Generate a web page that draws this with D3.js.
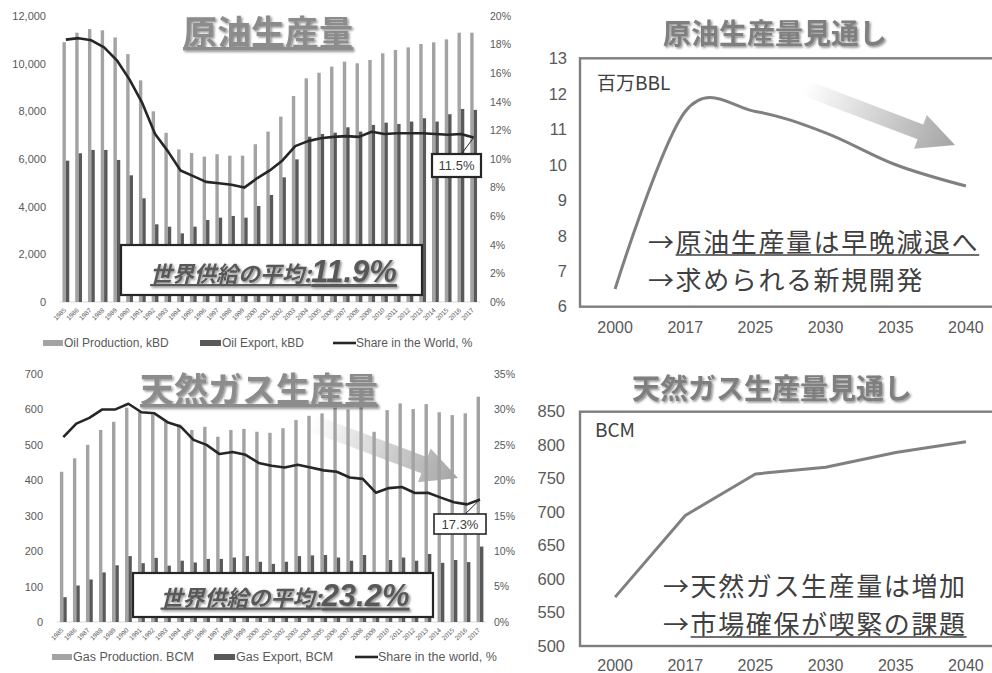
<!DOCTYPE html>
<html lang="ja"><head><meta charset="utf-8">
<script src="https://cdn.jsdelivr.net/npm/d3@7/dist/d3.min.js"></script>
<style>body{margin:0;background:#fff}svg{display:block}</style>
</head><body><svg id="c" width="992" height="673"></svg>
<script>
// ---------- DATA ----------
const years = ["1985","1986","1987","1988","1989","1990","1991","1992","1993","1994","1995","1996","1997","1998","1999","2000","2001","2002","2003","2004","2005","2006","2007","2008","2009","2010","2011","2012","2013","2014","2015","2016","2017"];
const oilProduction = [10900,11300,11450,11400,11100,10400,9300,8000,7100,6400,6250,6100,6200,6140,6140,6620,7150,7780,8645,9385,9620,9875,10085,10015,10155,10435,10575,10685,10825,10895,11020,11300,11300];
const oilExport = [5930,6240,6380,6380,5960,5315,4350,3260,3160,2880,3160,3440,3540,3610,3540,4030,4490,5230,5985,6935,7050,7105,7330,7150,7430,7525,7470,7570,7710,7570,7880,8100,8060];
const oilShare = [18.35,18.45,18.3,17.8,16.9,15.55,13.9,11.75,10.55,9.2,8.8,8.4,8.3,8.2,8.0,8.65,9.2,9.9,10.9,11.25,11.45,11.55,11.6,11.55,11.9,11.75,11.8,11.8,11.8,11.75,11.7,11.75,11.5];
const oilLeftTicks = [0,2000,4000,6000,8000,10000,12000];
const oilRightTicks = [0,2,4,6,8,10,12,14,16,18,20];

const gasProduction = [424,462,500,542,565,605,594,586,565,558,542,551,523,542,545,537,534,547,570,582,589,605,600,612,537,598,617,601,615,592,584,589,636];
const gasExport = [70,103,120,140,160,186,166,181,159,173,168,178,178,182,186,170,164,170,186,188,189,182,173,189,130,175,182,173,192,167,175,169,213];
const gasShare = [26.1,28.0,28.8,30.0,30.0,30.8,29.6,29.45,28.2,27.6,25.7,25.0,23.7,24.0,23.6,22.45,22.05,21.8,22.2,21.8,21.4,21.2,20.4,20.2,18.25,18.9,19.05,18.2,18.25,17.55,16.9,16.6,17.3];
const gasLeftTicks = [0,100,200,300,400,500,600,700];
const gasRightTicks = [0,5,10,15,20,25,30,35];

const forecastYears = ["2000","2017","2025","2030","2035","2040"];
const oilForecast = [6.5,11.5,11.5,10.9,10.0,9.4];
const gasForecast = [573,695,757,767,789,805];
const oilForecastTicks = [6,7,8,9,10,11,12,13];
const gasForecastTicks = [500,550,600,650,700,750,800,850];

// ---------- SETUP ----------
const svg = d3.select("#c");
const LAT = "'Liberation Sans', Arial, sans-serif";
const JP = "'Noto Sans CJK JP', sans-serif";
const defs = svg.append("defs");
const f = defs.append("filter").attr("id","shadow").attr("x","-10%").attr("y","-20%").attr("width","130%").attr("height","150%");
f.append("feDropShadow").attr("dx",1.5).attr("dy",1.5).attr("stdDeviation",1.2).attr("flood-color","#000").attr("flood-opacity",0.45);
const gr = defs.append("linearGradient").attr("id","arrowGrad").attr("x1",0).attr("y1",0).attr("x2",1).attr("y2",0);
gr.append("stop").attr("offset","0%").attr("stop-color","#ffffff");
gr.append("stop").attr("offset","100%").attr("stop-color","#a4a4a4");

function arrow(x0,y0,x1,y1,sw,hl,hw){
  const L = Math.hypot(x1-x0,y1-y0), a = Math.atan2(y1-y0,x1-x0)*180/Math.PI;
  const pts = [[0,-sw/2],[L-hl,-sw/2],[L-hl,-hw/2],[L,0],[L-hl,hw/2],[L-hl,sw/2],[0,sw/2]];
  svg.append("g").attr("transform",`translate(${x0},${y0}) rotate(${a})`)
    .append("polygon").attr("points",pts.map(p=>p.join(",")).join(" ")).attr("fill","url(#arrowGrad)");
}

function barChart(o){
  const g = svg.append("g");
  const x = d3.scaleBand().domain(years).range([o.x0,o.x1]);
  const yL = d3.scaleLinear().domain([0,o.maxL]).range([o.yBase,o.yTop]);
  const yR = d3.scaleLinear().domain([0,o.maxR]).range([o.yBase,o.yTop]);
  const c = d => x(d)+x.bandwidth()/2;
  const bw = 3.4;
  g.append("line").attr("x1",o.x0).attr("x2",o.x1).attr("y1",o.yBase).attr("y2",o.yBase).attr("stroke","#d9d9d9");
  g.selectAll(".p").data(o.prod).join("rect").attr("x",(d,i)=>c(years[i])-bw).attr("y",d=>yL(d))
    .attr("width",bw).attr("height",d=>o.yBase-yL(d)).attr("fill","#a3a3a3");
  g.selectAll(".e").data(o.exp).join("rect").attr("x",(d,i)=>c(years[i])).attr("y",d=>yL(d))
    .attr("width",bw).attr("height",d=>o.yBase-yL(d)).attr("fill","#595959");
  g.append("path").datum(o.share).attr("fill","none").attr("stroke","#262626").attr("stroke-width",2.6)
    .attr("stroke-linejoin","round")
    .attr("d",d3.line().x((d,i)=>c(years[i])).y(d=>yR(d)));
  // axes
  const la = g.append("g").attr("transform",`translate(${o.leftX},0)`)
    .call(d3.axisLeft(yL).tickValues(o.leftTicks).tickSize(0).tickPadding(1).tickFormat(d3.format(",")));
  const ra = g.append("g").attr("transform",`translate(${o.rightX},0)`)
    .call(d3.axisRight(yR).tickValues(o.rightTicks).tickSize(0).tickPadding(1).tickFormat(d=>d+"%"));
  [la,ra].forEach(a=>{a.select(".domain").remove();a.selectAll("text").attr("fill","#595959").style("font-family",LAT);});
  la.selectAll("text").style("font-size","11px");
  ra.selectAll("text").style("font-size","10.5px");
  const xa = g.append("g").attr("transform",`translate(0,${o.yBase})`).call(d3.axisBottom(x).tickSize(0));
  xa.select(".domain").remove();
  xa.selectAll("text").attr("y",0).attr("dy","0.35em").attr("x",0)
    .attr("transform","translate(-1,7) rotate(-45)").style("text-anchor","end")
    .style("font-size","6.5px").style("font-family",LAT).attr("fill","#595959");
  // last-value label
  const lx = c(years[years.length-1]), ly = yR(o.share[o.share.length-1]);
  g.append("line").attr("x1",o.lbl[0]+o.lbl[2]*0.6).attr("y1",o.lbl[1]).attr("x2",lx).attr("y2",ly)
    .attr("stroke","#262626").attr("stroke-width",1);
  g.append("rect").attr("x",o.lbl[0]).attr("y",o.lbl[1]).attr("width",o.lbl[2]).attr("height",o.lbl[3])
    .attr("fill","#fff").attr("stroke","#262626").attr("stroke-width",o.lblStroke);
  g.append("text").attr("x",o.lbl[0]+o.lbl[2]/2).attr("y",o.lbl[1]+o.lbl[3]/2).attr("dy","0.36em")
    .attr("text-anchor","middle").style("font-family",LAT).style("font-size","13px").attr("fill","#404040")
    .text((o.share[o.share.length-1]).toFixed(1)+"%");
  // average box
  const b = o.box;
  g.append("rect").attr("x",b[0]).attr("y",b[1]).attr("width",b[2]).attr("height",b[3])
    .attr("fill","#fff").attr("stroke","#262626").attr("stroke-width",2.2);
  const t = g.append("text").attr("x",b[0]+b[2]/2+2).attr("y",b[1]+b[3]*0.74).attr("text-anchor","middle")
    .attr("fill","#595959").style("font-weight","bold").style("font-style","italic")
    .style("text-decoration","underline").attr("filter","url(#shadow)");
  t.append("tspan").style("font-family",JP).style("font-size","22px").text("世界供給の平均:");
  t.append("tspan").style("font-family",LAT).style("font-size","31px").text(o.avg);
  // title
  g.append("text").attr("x",o.title[1]).attr("y",o.title[2]).attr("text-anchor","middle")
    .style("font-family",JP).style("font-weight","bold").style("font-size","34px")
    .style("text-decoration","underline").attr("fill","#8c8c8c").attr("filter","url(#shadow)").text(o.title[0]);
  // legend
  const lg = g.append("g").style("font-family",LAT).style("font-size",o.legFont).attr("fill","#595959");
  const L = o.leg;
  lg.append("rect").attr("x",L[0]).attr("y",L[3]-3).attr("width",20).attr("height",6).attr("fill","#a3a3a3");
  lg.append("text").attr("x",L[0]+21).attr("y",L[3]).attr("dy","0.35em").text(o.legText[0]);
  lg.append("rect").attr("x",L[1]).attr("y",L[3]-3).attr("width",21).attr("height",6).attr("fill","#595959");
  lg.append("text").attr("x",L[1]+22).attr("y",L[3]).attr("dy","0.35em").text(o.legText[1]);
  lg.append("line").attr("x1",L[2]).attr("x2",L[2]+23).attr("y1",L[3]).attr("y2",L[3]).attr("stroke","#262626").attr("stroke-width",2.6);
  lg.append("text").attr("x",L[2]+23).attr("y",L[3]).attr("dy","0.35em").text(o.legText[2]);
  return g;
}

barChart({x0:59.5,x1:480,yBase:302,yTop:16,maxL:12000,maxR:20,leftX:47,rightX:489,
  prod:oilProduction,exp:oilExport,share:oilShare,leftTicks:oilLeftTicks,rightTicks:oilRightTicks,
  lbl:[432,154,49,23],lblStroke:2.2,box:[121,245,301,50],avg:"11.9%",title:["原油生産量",268,45],
  leg:[43,200,333,343],legFont:"12px",legText:["Oil Production, kBD","Oil Export, kBD","Share in the World, %"]});

arrow(312,423,458,478,17,36,36);

barChart({x0:56.8,x1:486.5,yBase:622,yTop:374,maxL:700,maxR:35,leftX:44,rightX:493,
  prod:gasProduction,exp:gasExport,share:gasShare,leftTicks:gasLeftTicks,rightTicks:gasRightTicks,
  lbl:[434,514,52,20],lblStroke:1.6,box:[133,573,300,44],avg:"23.2%",title:["天然ガス生産量",259,402],
  leg:[52,214,355,657],legFont:"12.5px",legText:["Gas Production. BCM","Gas Export, BCM","Share in the world, %"]});

// ---------- forecast charts ----------
function forecast(o){
  const g = svg.append("g");
  const x = d3.scaleBand().domain(forecastYears).range([580,1001]);
  const y = d3.scaleLinear().domain(o.dom).range([o.yB,o.yT]);
  const cx = d => x(d)+x.bandwidth()/2;
  g.append("rect").attr("x",580).attr("y",o.yT).attr("width",440).attr("height",o.yB-o.yT)
    .attr("fill","none").attr("stroke","#7f7f7f").attr("stroke-width",2.4);
  g.selectAll(".yl").data(o.ticks).join("text").attr("x",o.lx).attr("y",d=>y(d)).attr("dy","0.35em")
    .attr("text-anchor","end").style("font-family",LAT).style("font-size","16.5px").attr("fill","#595959").text(d=>d);
  g.selectAll(".xl").data(forecastYears).join("text").attr("x",d=>cx(d)).attr("y",o.xb)
    .attr("text-anchor","middle").style("font-family",LAT).style("font-size","16px").attr("fill","#595959").text(d=>d);
  g.append("path").datum(o.vals).attr("fill","none").attr("stroke","#808080").attr("stroke-width",3)
    .attr("stroke-linejoin","round")
    .attr("d",d3.line().x((d,i)=>cx(forecastYears[i])).y(d=>y(d)).curve(o.curve));
  g.append("text").attr("x",o.unit[1]).attr("y",o.unit[2]).style("font-family",JP).style("font-size","19px")
    .attr("fill","#404040").text(o.unit[0]);
  g.append("text").attr("x",o.title[1]).attr("y",o.title[2]).attr("text-anchor","middle")
    .style("font-family",JP).style("font-weight","bold").style("font-size","28px")
    .attr("fill","#7f7f7f").attr("filter","url(#shadow)").text(o.title[0]);
  o.lines.forEach(l=>{
    const s = "→"+l[0];
    const t = g.append("text").attr("x",o.ax).attr("y",l[1]).style("font-family",JP).style("font-size","26px")
      .style("letter-spacing","1.6px").attr("fill","#404040").text(s);
    if (l[2]) {
      const n = t.node();
      const a = n.getSubStringLength(0,1), w = n.getSubStringLength(1,s.length-1);
      g.append("line").attr("x1",o.ax+a).attr("x2",o.ax+a+w).attr("y1",l[1]+3).attr("y2",l[1]+3)
        .attr("stroke","#404040").attr("stroke-width",1.5);
    }
  });
  return g;
}

forecast({dom:[6,13],yB:306.7,yT:58.3,ticks:oilForecastTicks,lx:567,xb:333,vals:oilForecast,
  curve:d3.curveCardinal.tension(0),unit:["百万BBL",597,90],title:["原油生産量見通し",775,44],
  ax:648,lines:[["原油生産量は早晩減退へ",252,true],["求められる新規開発",290,false]]});
arrow(805,88,955,145,16,37,36);

forecast({dom:[500,850],yB:646,yT:411.7,ticks:gasForecastTicks,lx:565,xb:671,vals:gasForecast,
  curve:d3.curveLinear,unit:["BCM",595,437],title:["天然ガス生産量見通し",772,399],
  ax:663,lines:[["天然ガス生産量は増加",596,false],["市場確保が喫緊の課題",634,true]]});
</script></body></html>
